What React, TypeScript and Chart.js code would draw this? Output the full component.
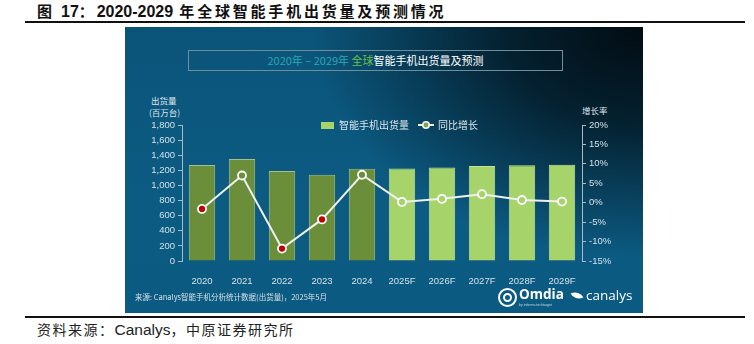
import React, { useEffect, useRef } from "react";
import { Chart, registerables } from "chart.js";

Chart.register(...registerables);

// ---- data ----
const categories = ["2020", "2021", "2022", "2023", "2024", "2025F", "2026F", "2027F", "2028F", "2029F"];
const shipments = [1270, 1350, 1190, 1142, 1222, 1224, 1236, 1257, 1266, 1275];
const growth = [-1.6, 7.0, -11.8, -4.3, 7.2, 0.2, 1.0, 2.2, 0.7, 0.3];
const leftAxis = [0, 1800, 200];
const rightAxis = [-15, 20, 5];
const seriesNames = ["智能手机出货量", "同比增长"];

const HIST = "#6b8e3b";
const HIST_BORDER = "#a4bf87";
const FCST = "#a6d46b";
const FCST_BORDER = "#c0e394";
const NEG = "#c00000";

const isForecast = categories.map((c) => c.endsWith("F"));
const barColors = isForecast.map((f) => (f ? FCST : HIST));
const barBorders = isForecast.map((f) => (f ? FCST_BORDER : HIST_BORDER));
const pointFills = growth.map((g, i) => (g < 0 ? NEG : barColors[i]));

const TICK = "#d3e0e8";
const AXIS = "#a9bcc6";
const TICK_FONT = { family: "'Liberation Sans', Arial, sans-serif", size: 9.5 };
const LEGEND_FONT = 10;

function makeBarIcon() {
  const c = document.createElement("canvas");
  c.width = 13;
  c.height = 7;
  const x = c.getContext("2d")!;
  x.fillStyle = FCST;
  x.fillRect(0, 0, 13, 7);
  return c;
}
function makeLineIcon() {
  const c = document.createElement("canvas");
  c.width = 16;
  c.height = 10;
  const x = c.getContext("2d")!;
  x.strokeStyle = "#f2f2f2";
  x.lineWidth = 2;
  x.beginPath();
  x.moveTo(0, 5);
  x.lineTo(16, 5);
  x.stroke();
  x.beginPath();
  x.arc(8, 5, 3.2, 0, Math.PI * 2);
  x.fillStyle = "#7fa34a";
  x.fill();
  x.lineWidth = 1.6;
  x.stroke();
  return c;
}

// legend sits over the top of the plot area, as in the source graphic
const legendShift = {
  id: "legendShift",
  afterLayout(chart: any) {
    const lg = chart.legend;
    if (!lg) return;
    lg.left += 15;
    lg.right += 15;
    const dy = chart.chartArea.top - (lg.top + lg.options.labels.padding + LEGEND_FONT / 2);
    lg.top += dy;
    lg.bottom += dy;
  },
};

function ChartCanvas() {
  const ref = useRef<HTMLCanvasElement | null>(null);
  useEffect(() => {
    if (!ref.current) return;
    const barIcon = makeBarIcon();
    const lineIcon = makeLineIcon();
    const chart = new Chart(ref.current, {
      type: "bar",
      data: {
        labels: categories,
        datasets: [
          {
            type: "line",
            label: seriesNames[1],
            data: growth,
            yAxisID: "y1",
            borderColor: "#f0f0f0",
            borderWidth: 2,
            pointRadius: 4,
            pointBorderWidth: 1.8,
            pointBorderColor: "#ffffff",
            pointBackgroundColor: pointFills,
            tension: 0,
            order: 0,
          } as any,
          {
            type: "bar",
            label: seriesNames[0],
            data: shipments,
            yAxisID: "y",
            backgroundColor: barColors,
            borderColor: barBorders,
            borderWidth: 1,
            categoryPercentage: 1,
            barPercentage: 0.66,
            order: 1,
          },
        ],
      },
      options: {
        responsive: false,
        animation: false,
        layout: { padding: { top: 68, bottom: 0, left: 0, right: 0 } },
        plugins: {
          tooltip: { enabled: false },
          legend: {
            position: "top",
            align: "center",
            labels: {
              usePointStyle: true,
              pointStyleWidth: 14,
              padding: 10,
              color: "#dce6eb",
              font: { family: "'Noto Sans CJK SC', sans-serif", size: LEGEND_FONT },
              generateLabels: () => [
                { text: seriesNames[0], pointStyle: barIcon, fillStyle: FCST, strokeStyle: FCST, lineWidth: 0, hidden: false, datasetIndex: 1, fontColor: "#dce6eb" } as any,
                { text: seriesNames[1], pointStyle: lineIcon, fillStyle: "#fff", strokeStyle: "#fff", lineWidth: 0, hidden: false, datasetIndex: 0, fontColor: "#dce6eb" } as any,
              ],
            },
          },
        },
        scales: {
          x: {
            offset: true,
            grid: { display: false },
            border: { display: false },
            ticks: { color: TICK, font: TICK_FONT, padding: 7, maxRotation: 0 },
            afterFit: (s: any) => {
              s.height = 52;
            },
          },
          y: {
            position: "left",
            min: leftAxis[0],
            max: leftAxis[1],
            grid: { drawOnChartArea: false, color: AXIS, tickLength: 4, tickColor: AXIS },
            border: { display: true, color: AXIS, width: 1 },
            ticks: {
              stepSize: leftAxis[2],
              color: TICK,
              font: TICK_FONT,
              padding: 3,
              callback: (v: any) => Number(v).toLocaleString("en-US"),
            },
            afterFit: (s: any) => {
              s.width = 57;
            },
          },
          y1: {
            position: "right",
            min: rightAxis[0],
            max: rightAxis[1],
            grid: { drawOnChartArea: false, color: AXIS, tickLength: 4, tickColor: AXIS },
            border: { display: true, color: AXIS, width: 1 },
            ticks: {
              stepSize: rightAxis[2],
              color: TICK,
              font: TICK_FONT,
              padding: 3,
              callback: (v: any) => `${v}%`,
            },
            afterFit: (s: any) => {
              s.width = 61;
            },
          },
        },
      },
      plugins: [legendShift],
    });
    return () => chart.destroy();
  }, []);
  return (
    <canvas
      ref={ref}
      width={518}
      height={286}
      style={{ position: "absolute", left: 0, top: 0, width: 518, height: 286 }}
    />
  );
}

const CJK = "'Noto Sans CJK SC', 'Liberation Sans', sans-serif";
const LATIN = "'Liberation Sans', Arial, sans-serif";

export default function App() {
  return (
    <div
      style={{
        position: "fixed",
        left: 0,
        top: 0,
        width: 754,
        height: 344,
        background: "#ffffff",
        overflow: "hidden",
        fontFamily: CJK,
      }}
    >
      {/* report title */}
      <div
        style={{
          position: "absolute",
          left: 37,
          top: 1,
          fontSize: 15,
          fontWeight: 700,
          color: "#111",
          letterSpacing: 2.8,
          whiteSpace: "nowrap",
          lineHeight: "20px",
        }}
      >
        图 <span style={{ fontFamily: LATIN, fontSize: 16, letterSpacing: 0 }}>17</span>：
        <span style={{ fontFamily: LATIN, fontSize: 16, letterSpacing: 0 }}>2020-2029</span> 年全球智能手机出货量及预测情况
      </div>
      <div style={{ position: "absolute", left: 25, top: 21, width: 720, height: 2, background: "#111" }} />

      {/* panel */}
      <div
        style={{
          position: "absolute",
          left: 125,
          top: 27,
          width: 518,
          height: 286,
          background:
            "radial-gradient(ellipse 75% 95% at 100% 0%, #020c13 0%, #04202f 35%, rgba(11,85,120,0) 85%), linear-gradient(180deg, #0b5479 0%, #0c5b83 60%, #0b5a82 100%)",
        }}
      >
        <div
          style={{
            position: "absolute",
            left: 63,
            top: 23,
            width: 373,
            height: 19,
            border: "1px solid #6e8e9b",
            textAlign: "center",
            fontSize: 11,
            lineHeight: "19px",
            color: "#ffffff",
            whiteSpace: "nowrap",
          }}
        >
          <span style={{ color: "#2aa6b8" }}>2020年 – 2029年 </span>
          <span style={{ color: "#6cc04a" }}>全球</span>
          <span>智能手机出货量及预测</span>
        </div>

        <div style={{ position: "absolute", left: 26, top: 67, fontSize: 8.5, color: "#dde7ec", lineHeight: "12px", whiteSpace: "nowrap" }}>
          出货量
          <br />
          <span style={{ marginLeft: -2 }}>(百万台)</span>
        </div>
        <div style={{ position: "absolute", left: 457, top: 77, fontSize: 8.5, color: "#dde7ec", lineHeight: "12px", whiteSpace: "nowrap" }}>
          增长率
        </div>

        <ChartCanvas />

        <div style={{ position: "absolute", left: 10, top: 264, fontSize: 7.5, color: "#d4e0e7", whiteSpace: "nowrap", lineHeight: "12px" }}>
          来源: Canalys智能手机分析统计数据(出货量)，2025年5月
        </div>

        {/* logos */}
        <div
          style={{
            position: "absolute",
            left: 373,
            top: 261,
            width: 15,
            height: 15,
            borderRadius: "50%",
            border: "2px solid #ffffff",
          }}
        >
          <div style={{ position: "absolute", left: 3, top: 3, width: 5, height: 5, borderRadius: "50%", border: "2px solid #ffffff" }} />
        </div>
        <div
          style={{
            position: "absolute",
            left: 394,
            top: 259,
            fontFamily: "'Open Sans', sans-serif",
            fontWeight: 700,
            fontSize: 13.5,
            color: "#ffffff",
            lineHeight: "16px",
          }}
        >
          Omdia
        </div>
        <div style={{ position: "absolute", left: 394, top: 276, fontSize: 3.5, color: "#c9d6de", lineHeight: "5px", whiteSpace: "nowrap", fontFamily: LATIN }}>
          by informa techtarget
        </div>
        <div
          style={{
            position: "absolute",
            left: 447,
            top: 264,
            width: 10,
            height: 9,
            background: "#ffffff",
            borderRadius: "0 100% 0 100%",
            transform: "rotate(-25deg)",
          }}
        />
        <div
          style={{
            position: "absolute",
            left: 461,
            top: 260,
            fontFamily: "'Open Sans', sans-serif",
            fontSize: 13.5,
            color: "#ffffff",
            lineHeight: "16px",
          }}
        >
          canalys
        </div>
      </div>

      <div style={{ position: "absolute", left: 25, top: 316, width: 720, height: 2, background: "#111" }} />
      <div
        style={{
          position: "absolute",
          left: 37,
          top: 320,
          fontSize: 14,
          color: "#222",
          letterSpacing: 1.5,
          whiteSpace: "nowrap",
          lineHeight: "19px",
        }}
      >
        资料来源：<span style={{ fontFamily: LATIN, fontSize: 15.5, letterSpacing: 0 }}>Canalys</span>，中原证券研究所
      </div>
    </div>
  );
}
